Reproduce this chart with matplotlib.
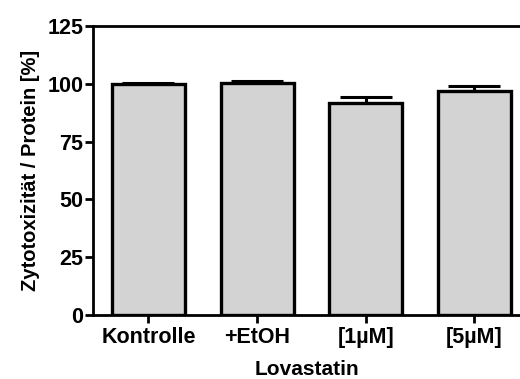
import numpy as np
import matplotlib.pyplot as plt

plt.rcParams['font.family'] = ['Liberation Sans', 'DejaVu Sans']
plt.rcParams['font.weight'] = 'bold'

categories = ['Kontrolle', '+EtOH', '[1µM]', '[5µM]']
values = [100.0, 100.2, 91.8, 96.9]
errors = [0.4, 1.2, 2.7, 2.3]
yticks = [0, 25, 50, 75, 100, 125]

fig = plt.figure(figsize=(5.2, 3.79), dpi=100)
ax = fig.add_axes([0.179, 0.169, 0.821, 0.762])

x = np.arange(len(categories))
ax.bar(x, values, width=0.67, color='#d3d3d3', edgecolor='black', linewidth=2.4, zorder=2)
ax.errorbar(x, values, yerr=[np.zeros(len(errors)), errors], fmt='none',
            ecolor='black', elinewidth=2.2, capsize=19, capthick=2.2, zorder=1)

ax.set_xlim(-0.51, 3.42)
ax.set_ylim(0, 125)
ax.set_yticks(yticks)
ax.set_xticks(x)
ax.set_xticklabels(categories)

ax.spines['right'].set_visible(False)
for s in ['left', 'bottom', 'top']:
    ax.spines[s].set_linewidth(2)
ax.tick_params(axis='both', width=2, length=6, labelsize=15.5, direction='out')
ax.tick_params(axis='y', pad=1)
ax.tick_params(axis='x', pad=3)

ax.set_ylabel('Zytotoxizität / Protein [%]', fontsize=14.5, fontweight='bold', labelpad=5)
ax.set_xlabel('Lovastatin', fontsize=15, fontweight='bold', labelpad=8)

fig.savefig('out.png', dpi=100)
